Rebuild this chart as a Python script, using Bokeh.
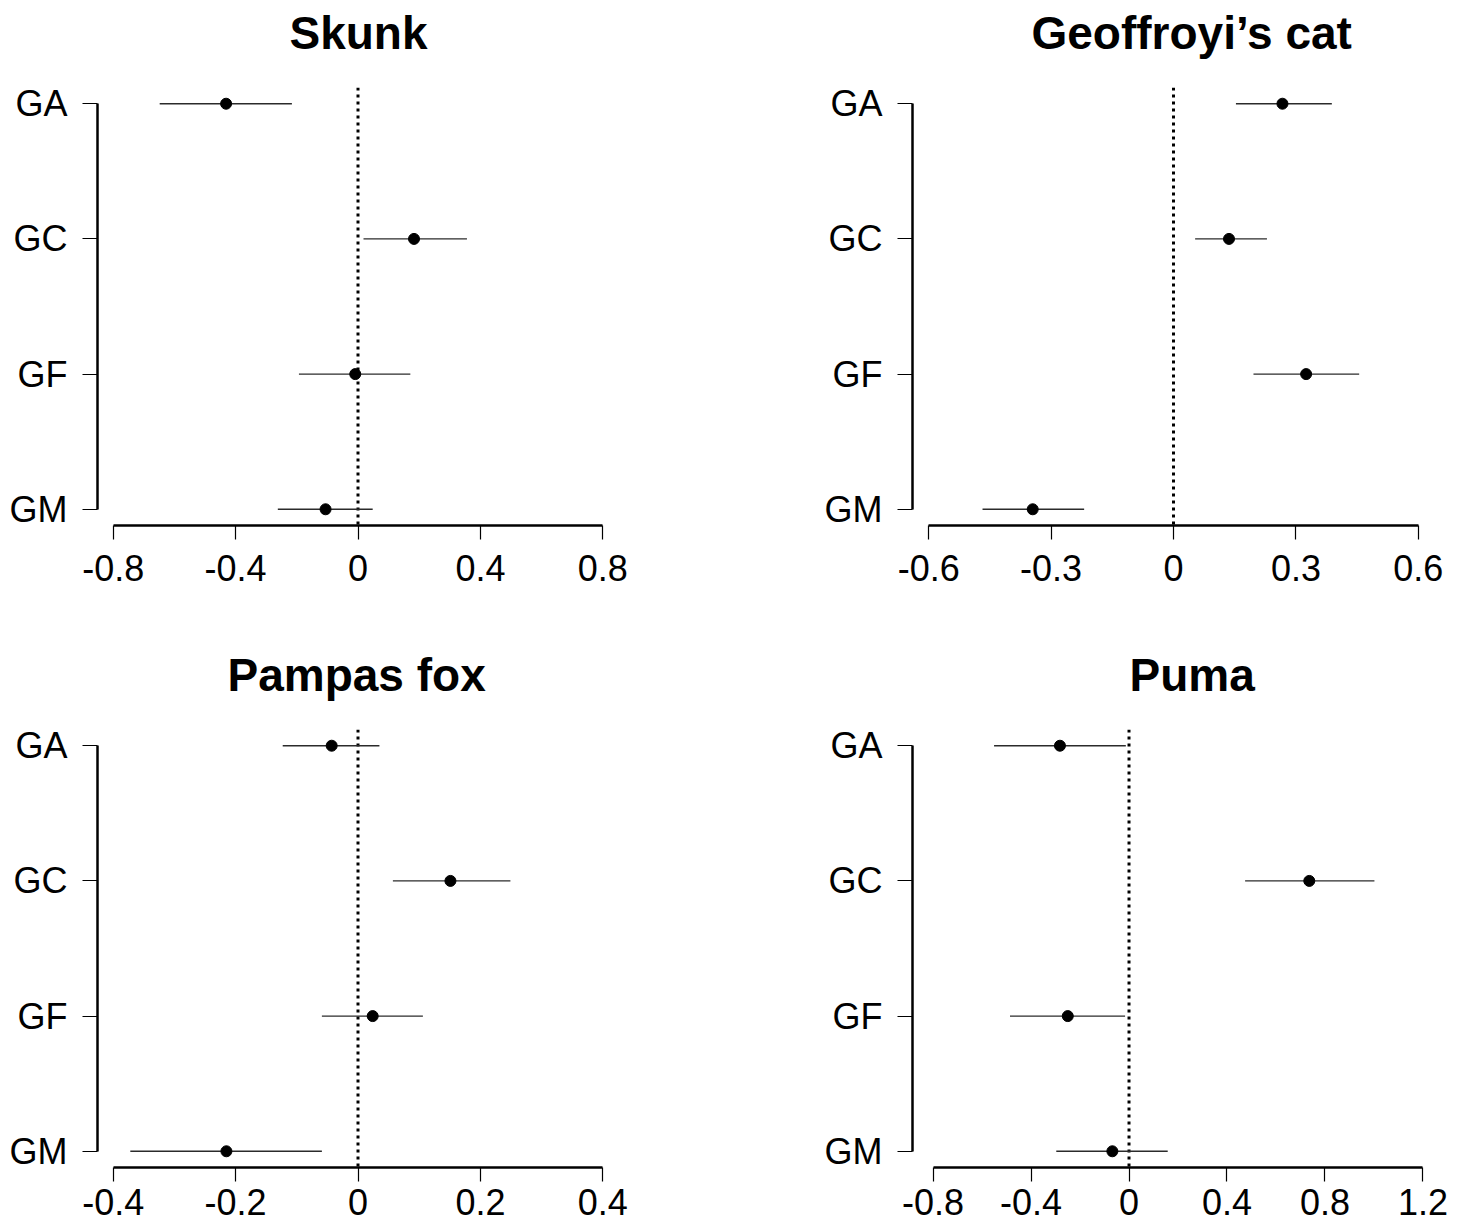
from bokeh.plotting import figure
from bokeh.layouts import column, row
from bokeh.models import Span, FixedTicker, ColumnDataSource, Title
from bokeh.embed import file_html
from bokeh.resources import INLINE

# ---------------- data ----------------
categories = ["GA", "GC", "GF", "GM"]

titles = ["Skunk", "Geoffroyi\u2019s cat", "Pampas fox", "Puma"]

skunk_est = [-0.431, 0.183, -0.009, -0.106]
skunk_lo = [-0.648, 0.018, -0.193, -0.262]
skunk_hi = [-0.216, 0.356, 0.171, 0.048]

cat_est = [0.267, 0.136, 0.325, -0.345]
cat_lo = [0.153, 0.053, 0.196, -0.468]
cat_hi = [0.388, 0.229, 0.455, -0.219]

fox_est = [-0.043, 0.151, 0.024, -0.215]
fox_lo = [-0.123, 0.057, -0.059, -0.372]
fox_hi = [0.035, 0.249, 0.106, -0.059]

puma_est = [-0.282, 0.736, -0.250, -0.068]
puma_lo = [-0.551, 0.474, -0.486, -0.297]
puma_hi = [-0.013, 1.002, -0.016, 0.158]

skunk_ticks = [-0.8, -0.4, 0, 0.4, 0.8]
skunk_tick_labels = ["-0.8", "-0.4", "0", "0.4", "0.8"]
cat_ticks = [-0.6, -0.3, 0, 0.3, 0.6]
cat_tick_labels = ["-0.6", "-0.3", "0", "0.3", "0.6"]
fox_ticks = [-0.4, -0.2, 0, 0.2, 0.4]
fox_tick_labels = ["-0.4", "-0.2", "0", "0.2", "0.4"]
puma_ticks = [-0.8, -0.4, 0, 0.4, 0.8, 1.2]
puma_tick_labels = ["-0.8", "-0.4", "0", "0.4", "0.8", "1.2"]

# ---------------- layout constants ----------------
FONT = "Liberation Sans"
TICK_SPAN_PX = 490
FRAME_H = 438


def make_panel(title, est, lo, hi, ticks, tick_labels, pad, title_offset,
               border_left, border_right, border_top, border_bottom, label_standoff):
    n = len(categories)
    ypos = [n - i for i in range(n)]
    span = ticks[-1] - ticks[0]
    x0 = ticks[0] - pad * span
    x1 = ticks[-1] + pad * span
    fw = round(TICK_SPAN_PX * (1 + 2 * pad))
    ypad = 0.04 * (n - 1)

    p = figure(frame_width=fw, frame_height=FRAME_H,
               x_range=(x0, x1), y_range=(1 - ypad, n + ypad),
               output_backend="svg", toolbar_location=None,
               min_border_left=border_left, min_border_right=border_right,
               min_border_top=border_top, min_border_bottom=border_bottom)
    p.outline_line_color = None
    p.grid.visible = False
    p.background_fill_color = "white"
    p.border_fill_color = "white"

    # spacer between frame and title (first added = nearest the frame)
    spacer = Title(text=" ", text_font=FONT, text_font_size="1px", standoff=26,
                   text_color="white")
    p.add_layout(spacer, "above")
    main = Title(text=title, align="left", offset=title_offset, standoff=0,
                 text_font=FONT, text_font_size="46px", text_font_style="bold",
                 text_color="black")
    p.add_layout(main, "above")

    # x axis
    xa = p.xaxis[0]
    xa.ticker = FixedTicker(ticks=ticks, minor_ticks=[])
    xa.major_label_overrides = {t: l for t, l in zip(ticks, tick_labels)}
    xa.bounds = (ticks[0], ticks[-1])
    xa.axis_line_width = 2.5
    xa.axis_line_color = "black"
    xa.major_tick_out = 14
    xa.major_tick_in = 0
    xa.major_tick_line_width = 1.2
    xa.major_tick_line_color = "black"
    xa.minor_tick_line_color = None
    xa.major_label_text_font = FONT
    xa.major_label_text_font_size = "36px"
    xa.major_label_text_color = "black"
    xa.major_label_standoff = label_standoff

    # y axis
    ya = p.yaxis[0]
    ya.ticker = FixedTicker(ticks=ypos, minor_ticks=[])
    ya.major_label_overrides = {y: c for y, c in zip(ypos, categories)}
    ya.bounds = (ypos[-1], ypos[0])
    ya.axis_line_width = 2.5
    ya.axis_line_color = "black"
    ya.major_tick_out = 15
    ya.major_tick_in = 0
    ya.major_tick_line_width = 1.2
    ya.major_tick_line_color = "black"
    ya.minor_tick_line_color = None
    ya.major_label_text_font = FONT
    ya.major_label_text_font_size = "36px"
    ya.major_label_text_color = "black"
    ya.major_label_standoff = 15

    src = ColumnDataSource(dict(y=ypos, est=est, lo=lo, hi=hi))

    zero = Span(location=0, dimension="height", line_color="black",
                line_width=3, line_dash="3 4", level="underlay")
    p.add_layout(zero)

    p.segment(x0="lo", y0="y", x1="hi", y1="y", source=src,
              line_color="#2b2b2b", line_width=1.4)
    p.scatter(x="est", y="y", source=src, size=11,
              fill_color="black", line_color="black")
    return p


p1 = make_panel(titles[0], skunk_est, skunk_lo, skunk_hi, skunk_ticks, skunk_tick_labels,
                0.032, 192, 97, 200, 87, 90, 15)
p2 = make_panel(titles[1], cat_est, cat_lo, cat_hi, cat_ticks, cat_tick_labels,
                0.033, 119, 94, 20, 87, 90, 15)
p3 = make_panel(titles[2], fox_est, fox_lo, fox_hi, fox_ticks, fox_tick_labels,
                0.032, 130, 97, 200, 114, 56, 7)
p4 = make_panel(titles[3], puma_est, puma_lo, puma_hi, puma_ticks, puma_tick_labels,
                0.042, 217, 94, 12, 114, 56, 7)

layout = column(row(p1, p2), row(p3, p4))

open("out.html", "w").write(file_html(layout, INLINE))
